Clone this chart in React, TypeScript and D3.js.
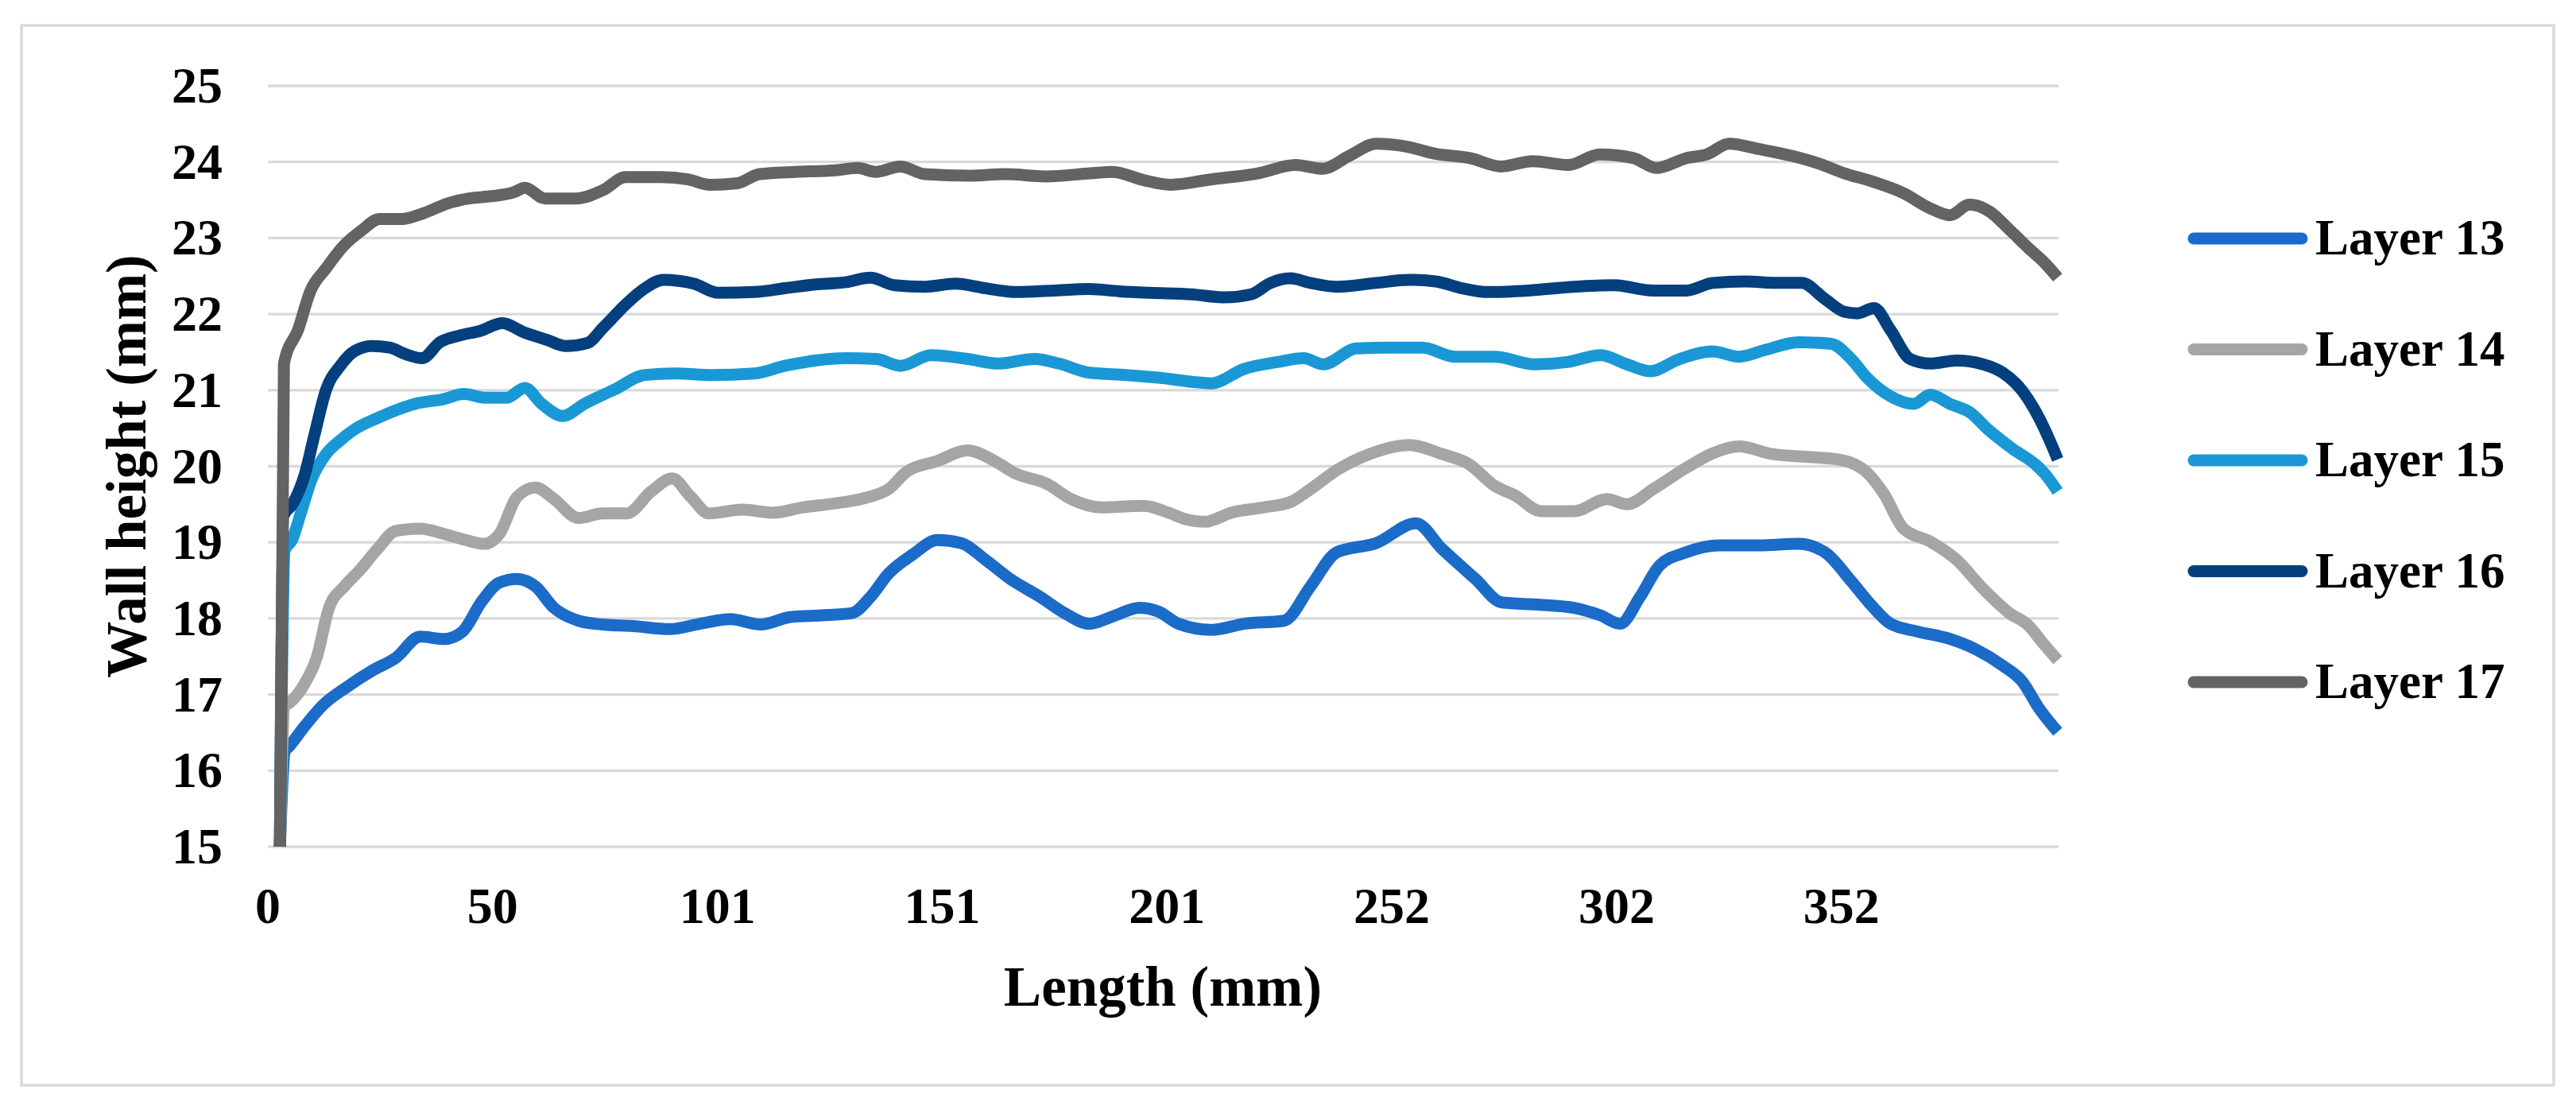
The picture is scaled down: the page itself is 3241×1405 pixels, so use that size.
import React from "react";
import * as d3 from "d3";

// ---------- data (length mm, wall height mm) ----------
const layer13: [number, number][] = [
  [2.7, 15], [3.8, 16.25], [4.8, 16.32], [8.2, 16.58], [12.3, 16.86], [17.7, 17.1], [23.2, 17.31],
  [28.6, 17.48], [34.1, 17.76], [39.5, 17.73], [43.6, 17.83], [47.7, 18.21], [51.8, 18.47], [55.8, 18.52],
  [59.9, 18.42], [64, 18.14], [69.5, 17.97], [74.9, 17.92], [81.7, 17.9], [89.9, 17.86], [96.7, 17.93],
  [103.5, 17.99], [110.3, 17.92], [117.1, 18.02], [123.9, 18.04], [130.7, 18.07], [134.8, 18.28],
  [138.9, 18.59], [144.3, 18.84], [149.8, 19.03], [155.2, 18.99], [160.6, 18.77], [166.1, 18.52],
  [172.9, 18.28], [178.3, 18.07], [183.8, 17.93], [189.2, 18.03], [195, 18.14], [199.3, 18.09],
  [203.8, 17.93], [211.1, 17.85], [218.5, 17.93], [227.4, 17.97], [233.3, 18.42], [239.2, 18.87],
  [248, 18.99], [256.9, 19.25], [262.8, 18.91], [270.2, 18.52], [276.1, 18.21], [284.9, 18.18],
  [292.3, 18.14], [298.2, 18.04], [302.6, 17.93], [307, 18.28], [311.5, 18.7], [317.4, 18.87],
  [324.7, 18.96], [333.6, 18.96], [342.5, 18.98], [348.4, 18.87], [354.3, 18.49], [358.7, 18.18],
  [363.1, 17.93], [369, 17.83], [376.4, 17.73], [382.3, 17.59], [388.2, 17.38], [392.6, 17.17],
  [396.3, 16.82], [400.5, 16.51],
];

const layer14: [number, number][] = [
  [2.7, 15], [3.8, 16.85], [4.8, 16.89], [8.2, 17.14], [10.9, 17.48], [13.7, 18.14], [17.1, 18.42],
  [20.5, 18.63], [24.5, 18.91], [28.6, 19.15], [34.1, 19.18], [39.5, 19.11], [44.3, 19.03], [48.4, 18.98],
  [51.8, 19.11], [55.8, 19.6], [59.9, 19.72], [64, 19.57], [69.5, 19.32], [74.9, 19.38], [80.3, 19.38],
  [85.8, 19.67], [90.5, 19.84], [94.6, 19.6], [98.7, 19.38], [106.2, 19.43], [113, 19.39], [119.8, 19.46],
  [126.6, 19.51], [133.4, 19.58], [138.9, 19.7], [143, 19.93], [149.8, 20.07], [156.6, 20.21], [162, 20.09],
  [167.5, 19.9], [174.3, 19.77], [179.7, 19.57], [186.5, 19.46], [196, 19.48], [201.5, 19.39],
  [205.6, 19.3], [209.7, 19.27], [215.6, 19.39], [222.9, 19.46], [228.8, 19.53], [233.3, 19.7],
  [239.2, 19.95], [246.5, 20.16], [255.4, 20.28], [262.8, 20.16], [268.7, 20.03], [274.6, 19.74],
  [279, 19.62], [284.9, 19.41], [292.3, 19.41], [299.7, 19.57], [304.1, 19.5], [310, 19.7], [317.4, 19.98],
  [323.3, 20.17], [329.2, 20.26], [336.6, 20.16], [345.4, 20.12], [351.3, 20.09], [357.2, 19.95],
  [361.6, 19.64], [366, 19.18], [372, 19.01], [377.9, 18.77], [383.8, 18.39], [389.7, 18.07],
  [394.1, 17.9], [397, 17.69], [400.5, 17.45],
];

const layer15: [number, number][] = [
  [2.7, 15], [3.8, 18.9], [5.4, 19.03], [7.3, 19.37], [9.8, 19.83], [13, 20.16], [16.2, 20.34], [20.1, 20.51],
  [24, 20.62], [28.8, 20.74], [33.6, 20.83], [39.1, 20.88], [43.9, 20.95], [48.8, 20.9], [53.4, 20.9],
  [57.5, 21.03], [61.3, 20.82], [66, 20.66], [70.8, 20.82], [77.6, 21.01], [84.4, 21.2], [91.2, 21.22],
  [99.4, 21.2], [108.9, 21.22], [115.7, 21.32], [122.5, 21.39], [129.4, 21.42], [136.1, 21.41],
  [141.6, 21.32], [148.4, 21.46], [156.6, 21.41], [163.4, 21.35], [171.5, 21.41], [177, 21.35],
  [183.8, 21.23], [192, 21.2], [200.1, 21.16], [206.7, 21.11], [211.1, 21.09], [218.5, 21.28],
  [225.9, 21.37], [231.8, 21.42], [236.2, 21.34], [243.6, 21.55], [251, 21.56], [258.3, 21.56],
  [265.7, 21.44], [274.6, 21.44], [283.4, 21.34], [290.8, 21.37], [298.2, 21.46], [304.1, 21.34],
  [309.3, 21.25], [315.9, 21.41], [323.3, 21.51], [329.2, 21.44], [335.1, 21.53], [342.5, 21.63],
  [349.8, 21.61], [354.3, 21.41], [357.9, 21.16], [363.1, 20.92], [368.3, 20.82], [372, 20.94],
  [376.4, 20.82], [380.8, 20.71], [385.2, 20.47], [390.4, 20.23], [395.6, 20.02], [397.5, 19.91],
  [400.5, 19.67],
];

const layer16: [number, number][] = [
  [2.7, 15], [3.5, 19.35], [5.5, 19.5], [8.2, 19.88], [10.5, 20.43], [13, 21.0], [16.2, 21.32], [19.3, 21.51],
  [23.3, 21.58], [27.2, 21.56], [31, 21.47], [34.5, 21.42], [38.5, 21.63], [43, 21.72], [47.5, 21.78],
  [52.5, 21.88], [57.3, 21.76], [62.5, 21.66], [66.7, 21.58], [71.5, 21.62], [75, 21.82], [80.3, 22.14],
  [84.4, 22.34], [88.5, 22.45], [95.3, 22.4], [100.8, 22.28], [108.9, 22.29], [115.7, 22.34],
  [122.5, 22.39], [129.4, 22.42], [134.8, 22.48], [140.2, 22.38], [147, 22.36], [153.8, 22.4],
  [160.6, 22.34], [167.5, 22.29], [175.6, 22.31], [183.8, 22.33], [190.6, 22.3], [197.4, 22.28],
  [206.7, 22.26], [214.1, 22.22], [220, 22.26], [224.4, 22.41], [228.8, 22.47], [233.3, 22.41],
  [239.2, 22.36], [248, 22.41], [255.4, 22.45], [261.3, 22.43], [267.2, 22.34], [273.1, 22.29],
  [282, 22.31], [292.3, 22.36], [301.1, 22.38], [310, 22.31], [317.4, 22.31], [323.3, 22.41],
  [330.6, 22.43], [338, 22.41], [343.2, 22.41], [348.4, 22.2], [352.8, 22.03], [355.7, 22.01],
  [359.4, 22.08], [363.1, 21.79], [367.5, 21.41], [372, 21.35], [377.9, 21.39], [383.8, 21.34],
  [388.2, 21.23], [392.6, 20.99], [396.3, 20.64], [399.3, 20.26], [400.5, 20.09],
];

const layer17: [number, number][] = [
  [2.7, 15], [3.6, 21.35], [6.8, 21.8], [9.5, 22.3], [13, 22.6], [17, 22.9], [21, 23.1], [25, 23.25],
  [30, 23.25], [35, 23.33], [40, 23.45], [45, 23.52], [50, 23.55], [55, 23.6], [57.5, 23.66], [62, 23.52],
  [69, 23.52], [75, 23.63], [80, 23.8], [88, 23.8], [94, 23.77], [99, 23.7], [105, 23.72], [110, 23.84],
  [118, 23.87], [127, 23.89], [132, 23.92], [136, 23.87], [141.5, 23.94], [147, 23.84], [157, 23.82],
  [165, 23.84], [174, 23.81], [184, 23.85], [189, 23.87], [196, 23.76], [202, 23.7], [211, 23.77],
  [221.5, 23.85], [230, 23.96], [236, 23.91], [242, 24.08], [248, 24.24], [255, 24.2], [261, 24.11],
  [269, 24.05], [276, 23.94], [283, 24.01], [291, 23.96], [298, 24.1], [305.6, 24.05], [310.7, 23.92],
  [317.4, 24.05], [322, 24.1], [327, 24.24], [333.6, 24.17], [341, 24.08], [347, 23.98], [352.8, 23.85],
  [358.7, 23.75], [366, 23.59], [372, 23.39], [376.4, 23.3], [380.8, 23.44], [385.2, 23.35],
  [389.7, 23.11], [394.1, 22.86], [397.8, 22.66], [400.5, 22.48],
];

const seriesNames = ["Layer 13", "Layer 14", "Layer 15", "Layer 16", "Layer 17"];
const seriesData = [layer13, layer14, layer15, layer16, layer17];
const seriesColors = ["#1B6BC9", "#A5A5A5", "#1A98D5", "#043F7E", "#636363"];

const xTickValues = [0, 50.3, 100.6, 150.9, 201.2, 251.5, 301.8, 352.1];
const xTickLabels = ["0", "50", "101", "151", "201", "252", "302", "352"];
const yTicks = [15, 16, 17, 18, 19, 20, 21, 22, 23, 24, 25];

// ---------- layout ----------
const W = 3241;
const H = 1405;
const PL = 337, PR = 2590, PT = 108, PB = 1065;
const FONT = "'Liberation Serif', 'Times New Roman', serif";

export default function App() {
  const x = d3.scaleLinear().domain([0, 400.7]).range([PL, PR]);
  const y = d3.scaleLinear().domain([15, 25]).range([PB, PT]);
  const line = d3
    .line<[number, number]>()
    .x((d) => x(d[0]))
    .y((d) => y(d[1]))
    .curve(d3.curveMonotoneX);

  return (
    <svg
      width={W}
      height={H}
      style={{ position: "absolute", left: 0, top: 0, background: "#fff" }}
      fontFamily={FONT}
    >
      <rect x={0} y={0} width={W} height={H} fill="#fff" />
      <rect x={27} y={32} width={3186} height={1333} fill="none" stroke="#d9d9d9" strokeWidth={3.5} />
      <defs>
        <clipPath id="plotClip">
          <rect x={PL - 20} y={PT - 20} width={PR - PL + 40} height={PB - PT + 23} />
        </clipPath>
      </defs>

      {yTicks.map((t) => (
        <line key={"g" + t} x1={PL} x2={PR} y1={y(t)} y2={y(t)} stroke="#d9d9d9" strokeWidth={3.3} />
      ))}

      {yTicks.map((t) => (
        <text key={"yt" + t} x={280} y={y(t) + 21} textAnchor="end" fontSize={64} fontWeight="bold" fill="#000">
          {t}
        </text>
      ))}

      {xTickValues.map((v, i) => (
        <text key={"xt" + i} x={x(v)} y={1161} textAnchor="middle" fontSize={64} fontWeight="bold" fill="#000">
          {xTickLabels[i]}
        </text>
      ))}

      <g clipPath="url(#plotClip)">
        {seriesData.map((s, i) => (
          <path
            key={seriesNames[i]}
            d={line(s) || ""}
            fill="none"
            stroke={seriesColors[i]}
            strokeWidth={15}
            strokeLinejoin="round"
            strokeLinecap="butt"
          />
        ))}
      </g>

      <text x={1463} y={1265} textAnchor="middle" fontSize={71} fontWeight="bold" fill="#000">
        Length (mm)
      </text>
      <text
        transform={`translate(183, ${(PT + PB) / 2}) rotate(-90)`}
        textAnchor="middle"
        fontSize={71}
        fontWeight="bold"
        fill="#000"
      >
        Wall height (mm)
      </text>

      {seriesNames.map((name, i) => {
        const ly = 300 + i * 139.5;
        return (
          <g key={"lg" + i}>
            <line x1={2760} x2={2896} y1={ly} y2={ly} stroke={seriesColors[i]} strokeWidth={15} strokeLinecap="round" />
            <text x={2913} y={ly + 20} fontSize={63} fontWeight="bold" fill="#000">
              {name}
            </text>
          </g>
        );
      })}
    </svg>
  );
}
